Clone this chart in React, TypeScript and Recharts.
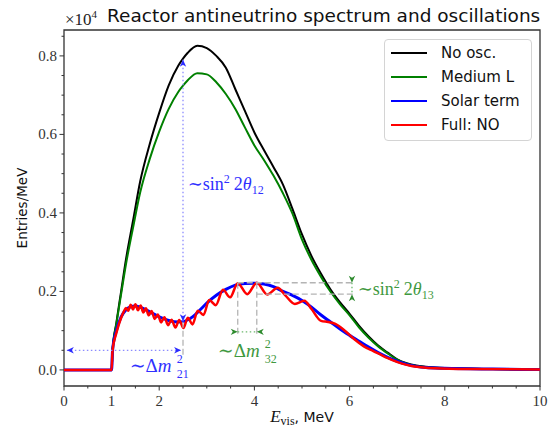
import React from 'react';
import { LineChart, Line, XAxis, YAxis, Legend, ReferenceArea, ReferenceDot } from 'recharts';

const W = 551;
const H = 429;
const Y_MIN = -0.041;
const Y_MAX = 0.866;

const SERIF = '"Liberation Serif", "DejaVu Serif", serif';
const SANS = '"DejaVu Sans", "Liberation Sans", sans-serif';
const AXIS = '#333333';

// x ticks (E_vis, MeV) and y ticks (x10^4 entries/MeV)
const X_TICKS = [0, 0.5, 1, 1.5, 2, 2.5, 3, 3.5, 4, 4.5, 5, 5.5, 6, 6.5, 7, 7.5, 8, 8.5, 9, 9.5, 10];
const X_LABELED = [0, 1, 2, 4, 6, 8, 10];
const Y_TICKS = [0, 0.05, 0.1, 0.15, 0.2, 0.25, 0.3, 0.35, 0.4, 0.45, 0.5, 0.55, 0.6, 0.65, 0.7, 0.75, 0.8, 0.85];
const Y_LABELED = [0, 0.2, 0.4, 0.6, 0.8];

// spectra: [E_vis, entries/MeV in 1e4]
const noOsc: [number, number][] = [
  [0, 0], [1.0, 0], [1.02, 0.05], [1.1, 0.12], [1.2, 0.2], [1.3, 0.28], [1.45, 0.38], [1.6, 0.48],
  [1.8, 0.575], [2.0, 0.655], [2.2, 0.725], [2.4, 0.775], [2.5, 0.793], [2.6, 0.808], [2.8, 0.826],
  [3.0, 0.82], [3.2, 0.8], [3.4, 0.77], [3.6, 0.715], [3.8, 0.66], [4.0, 0.605], [4.2, 0.56],
  [4.4, 0.517], [4.6, 0.472], [4.8, 0.41], [5.0, 0.345], [5.2, 0.29], [5.4, 0.245], [5.6, 0.205],
  [5.8, 0.172], [6.0, 0.143], [6.2, 0.112], [6.4, 0.085], [6.6, 0.062], [6.8, 0.044], [7.0, 0.027],
  [7.2, 0.017], [7.4, 0.011], [7.6, 0.008], [8.0, 0.005], [9.0, 0.002], [10, 0.001],
];

const mediumL: [number, number][] = [
  [0, 0], [1.0, 0], [1.02, 0.05], [1.1, 0.117], [1.2, 0.193], [1.3, 0.268], [1.45, 0.362], [1.6, 0.452],
  [1.8, 0.537], [2.0, 0.607], [2.2, 0.665], [2.4, 0.708], [2.5, 0.724], [2.6, 0.738], [2.8, 0.756],
  [3.0, 0.753], [3.2, 0.733], [3.4, 0.703], [3.6, 0.665], [3.8, 0.618], [4.0, 0.572], [4.2, 0.535],
  [4.4, 0.495], [4.6, 0.45], [4.8, 0.398], [5.0, 0.332], [5.2, 0.28], [5.4, 0.237], [5.6, 0.199],
  [5.8, 0.167], [6.0, 0.139], [6.2, 0.108], [6.4, 0.082], [6.6, 0.06], [6.8, 0.042], [7.0, 0.026],
  [7.2, 0.016], [7.4, 0.01], [7.6, 0.007], [8.0, 0.004], [9.0, 0.002], [10, 0.001],
];

const solarTerm: [number, number][] = [
  [0, 0], [1.0, 0], [1.02, 0.05], [1.1, 0.1], [1.2, 0.135], [1.3, 0.153], [1.4, 0.161], [1.5, 0.163],
  [1.6, 0.16], [1.8, 0.148], [2.0, 0.135], [2.2, 0.126], [2.4, 0.122], [2.5, 0.123], [2.7, 0.135],
  [2.85, 0.152], [3.0, 0.17], [3.2, 0.19], [3.4, 0.205], [3.6, 0.216], [3.8, 0.22], [4.0, 0.221],
  [4.2, 0.219], [4.4, 0.212], [4.6, 0.2], [4.8, 0.19], [5.0, 0.177], [5.2, 0.16], [5.4, 0.14],
  [5.6, 0.122], [5.8, 0.104], [6.0, 0.088], [6.2, 0.073], [6.4, 0.058], [6.6, 0.044], [6.8, 0.032],
  [7.0, 0.022], [7.2, 0.014], [7.4, 0.009], [7.6, 0.006], [8.0, 0.004], [9.0, 0.002], [10, 0.001],
];

const fullNO: [number, number][] = [
  [0, 0], [1.0, 0], [1.02, 0.05], [1.1, 0.094], [1.2, 0.133], [1.25, 0.147],
  [1.3, 0.158], [1.35, 0.151], [1.4, 0.166], [1.45, 0.154], [1.5, 0.167], [1.555, 0.152],
  [1.61, 0.164], [1.665, 0.146], [1.72, 0.157], [1.78, 0.139], [1.84, 0.15], [1.905, 0.13],
  [1.97, 0.141], [2.04, 0.121], [2.11, 0.134], [2.185, 0.114], [2.26, 0.128], [2.34, 0.108],
  [2.42, 0.127], [2.51, 0.107], [2.6, 0.133], [2.7, 0.116], [2.81, 0.151], [2.93, 0.14],
  [3.05, 0.178], [3.19, 0.165], [3.34, 0.204], [3.49, 0.185], [3.65, 0.221], [3.85, 0.193],
  [4.05, 0.222], [4.27, 0.192], [4.49, 0.209], [4.65, 0.19], [4.85, 0.168], [5.05, 0.176],
  [5.2, 0.155], [5.4, 0.125], [5.55, 0.122], [5.7, 0.117], [5.9, 0.1], [6.1, 0.078], [6.3, 0.06],
  [6.5, 0.048], [6.7, 0.036], [6.9, 0.025], [7.1, 0.016], [7.3, 0.01], [7.5, 0.007], [7.8, 0.004],
  [8.5, 0.002], [10, 0.001],
];

// annotation geometry, data units
type Pt = { x: number; y: number; head?: 'up' | 'down' | 'left' | 'right' };
const arrow12: Pt[] = [{ x: 2.5, y: 0.124, head: 'down' }, { x: 2.5, y: 0.79, head: 'up' }];
const arrow21: Pt[] = [{ x: 0.06, y: 0.05, head: 'left' }, { x: 2.46, y: 0.05, head: 'right' }];
const guide21: Pt[] = [{ x: 2.5, y: 0.123 }, { x: 2.5, y: 0.035 }];
const guide32a: Pt[] = [{ x: 3.65, y: 0.222 }, { x: 3.65, y: 0.085 }];
const guide32b: Pt[] = [{ x: 4.05, y: 0.222 }, { x: 4.05, y: 0.085 }];
const arrow32: Pt[] = [{ x: 3.65, y: 0.097, head: 'right' }, { x: 4.05, y: 0.097, head: 'left' }];
const guide13a: Pt[] = [{ x: 3.65, y: 0.222 }, { x: 6.1, y: 0.222 }];
const guide13b: Pt[] = [{ x: 4.05, y: 0.193 }, { x: 6.1, y: 0.193 }];
const arrow13: Pt[] = [{ x: 6.05, y: 0.222, head: 'down' }, { x: 6.05, y: 0.193, head: 'up' }];

const toPts = (arr: [number, number][]) => arr.map(([x, y]) => ({ x, y }));

const series = [
  { name: 'No osc.', data: toPts(noOsc), color: '#000000', width: 2 },
  { name: 'Medium L', data: toPts(mediumL), color: '#008000', width: 2 },
  { name: 'Solar term', data: toPts(solarTerm), color: '#0000ff', width: 3 },
  { name: 'Full: NO', data: toPts(fullNO), color: '#ff0000', width: 2.5 },
];

const BLUE_TXT = '#3030ff';
const GREEN_TXT = '#3f993f';

function ArrowHead(props: any) {
  const { cx, cy, payload, fill, index } = props;
  if (!payload || !payload.head || cx == null) return <g key={`ah-${index}`} />;
  const rot = { right: 0, down: 90, left: 180, up: 270 }[payload.head as string];
  return (
    <path
      key={`ah-${index}`}
      transform={`translate(${cx},${cy}) rotate(${rot})`}
      d="M0,0 L-7,-3.2 L-5,0 L-7,3.2 Z"
      fill={fill}
    />
  );
}

function XTick(props: any) {
  const { x, y, payload } = props;
  const v = payload.value;
  const major = X_LABELED.includes(v);
  return (
    <g>
      <line x1={x} x2={x} y1={y} y2={y + (major ? 4.5 : 2.5)} stroke={AXIS} strokeWidth={1} />
      {major && (
        <text x={x} y={y + 20} textAnchor="middle" fontFamily={SERIF} fontSize={15} fill={AXIS}>
          {v}
        </text>
      )}
    </g>
  );
}

function YTick(props: any) {
  const { x, y, payload } = props;
  const v = payload.value;
  const major = Y_LABELED.includes(v);
  return (
    <g>
      <line x1={x} x2={x - (major ? 4.5 : 2.5)} y1={y} y2={y} stroke={AXIS} strokeWidth={1} />
      {major && (
        <text x={x - 7} y={y + 5} textAnchor="end" fontFamily={SERIF} fontSize={15} fill={AXIS}>
          {v.toFixed(1)}
        </text>
      )}
    </g>
  );
}

function XLabel(props: any) {
  const vb = props.viewBox || { x: 64, y: 386, width: 476 };
  const cx = vb.x + vb.width / 2;
  return (
    <text x={cx} y={vb.y + 36} textAnchor="middle" fill="#111">
      <tspan fontFamily={SERIF} fontStyle="italic" fontSize={17}>E</tspan>
      <tspan fontFamily={SERIF} fontSize={12} dy={3}>vis</tspan>
      <tspan fontFamily={SANS} fontSize={14} dy={-3}>, MeV</tspan>
    </text>
  );
}

function YLabel(props: any) {
  const vb = props.viewBox || { x: 4, y: 30, width: 60, height: 356 };
  const cx = vb.x + 18;
  const cy = vb.y + vb.height / 2;
  return (
    <text
      x={cx}
      y={cy}
      transform={`rotate(-90, ${cx}, ${cy})`}
      textAnchor="middle"
      dominantBaseline="central"
      fontFamily={SANS}
      fontSize={13.5}
      fill="#111"
    >
      Entries/MeV
    </text>
  );
}

function Sin2Label({ cx, cy, sub, color }: { cx: number; cy: number; sub: string; color: string }) {
  return (
    <text x={cx} y={cy + 5} fill={color} fontFamily={SERIF} fontSize={18}>
      <tspan>∼sin</tspan>
      <tspan fontSize={12} dy={-7}>2</tspan>
      <tspan dy={7} dx={4}>2</tspan>
      <tspan fontStyle="italic">θ</tspan>
      <tspan fontSize={12} dy={4}>{sub}</tspan>
    </text>
  );
}

// ~Δm² with stacked super/subscript; the scripts are separate texts so they sit one above the other
function DmLabel({ cx, cy, sub, color }: { cx: number; cy: number; sub: string; color: string }) {
  const sx = cx + 47;
  return (
    <g fill={color} fontFamily={SERIF}>
      <text x={cx} y={cy} fontSize={19}>
        ∼Δ<tspan fontStyle="italic">m</tspan>
      </text>
      <text x={sx} y={cy - 9} fontSize={12}>2</text>
      <text x={sx} y={cy + 6} fontSize={12}>{sub}</text>
    </g>
  );
}

function LegendBox(props: any) {
  const items = (props.payload || [])
    .filter((p: any) => p.type !== 'none' && series.some((s) => s.name === p.value))
    .sort(
      (a: any, b: any) =>
        series.findIndex((s) => s.name === a.value) - series.findIndex((s) => s.name === b.value),
    );
  return (
    <div
      style={{
        width: 148,
        height: 102,
        boxSizing: 'border-box',
        border: '1px solid #d4d4d4',
        borderRadius: 4,
        background: 'rgba(255,255,255,0.85)',
        paddingTop: 1,
      }}
    >
      {items.map((it: any) => (
        <div key={it.value} style={{ display: 'flex', alignItems: 'center', height: 24 }}>
          <div style={{ width: 36, height: 0, borderTop: `2px solid ${it.color}`, marginLeft: 6, marginRight: 14 }} />
          <span style={{ fontFamily: SANS, fontSize: 15, color: '#111', lineHeight: '24px' }}>{it.value}</span>
        </div>
      ))}
    </div>
  );
}

const guideProps = {
  type: 'linear' as const,
  dataKey: 'y',
  stroke: '#b4b4b4',
  strokeWidth: 1.3,
  strokeDasharray: '6 3',
  dot: false,
  legendType: 'none' as const,
  isAnimationActive: false,
};

export default function App() {
  return (
    <div style={{ position: 'relative', width: W, height: H, background: '#fff' }}>
      <style>{'body{margin:0}'}</style>
      <LineChart width={W} height={H} margin={{ top: 30, right: 11, bottom: 13, left: 4 }}>
        <XAxis
          type="number"
          dataKey="x"
          domain={[0, 10]}
          ticks={X_TICKS}
          interval={0}
          tick={(p: any) => <XTick {...p} />}
          tickLine={false}
          axisLine={false}
          tickSize={0}
          tickMargin={0}
          height={30}
          allowDataOverflow
          label={<XLabel />}
        />
        <YAxis
          type="number"
          domain={[Y_MIN, Y_MAX]}
          ticks={Y_TICKS}
          interval={0}
          tick={(p: any) => <YTick {...p} />}
          tickLine={false}
          axisLine={false}
          tickSize={0}
          tickMargin={0}
          width={60}
          allowDataOverflow
          label={<YLabel />}
        />
        <ReferenceArea x1={0} x2={10} y1={Y_MIN} y2={Y_MAX} fill="none" stroke={AXIS} strokeWidth={1.3} />

        {series.map((s) => (
          <Line
            key={s.name}
            name={s.name}
            data={s.data}
            dataKey="y"
            type="monotone"
            stroke={s.color}
            strokeWidth={s.width}
            dot={false}
            activeDot={false}
            isAnimationActive={false}
          />
        ))}

        {/* guide lines */}
        <Line {...guideProps} name="g21" data={guide21} />
        <Line {...guideProps} name="g32a" data={guide32a} />
        <Line {...guideProps} name="g32b" data={guide32b} />
        <Line {...guideProps} name="g13a" data={guide13a} />
        <Line {...guideProps} name="g13b" data={guide13b} />

        {/* arrows */}
        <Line
          name="a12"
          data={arrow12}
          dataKey="y"
          type="linear"
          stroke="#8c8cff"
          strokeWidth={1.3}
          strokeDasharray="1.5 2.5"
          legendType="none"
          isAnimationActive={false}
          dot={(p: any) => <ArrowHead {...p} fill="#2a2aff" />}
        />
        <Line
          name="a21"
          data={arrow21}
          dataKey="y"
          type="linear"
          stroke="#8c8cff"
          strokeWidth={1.3}
          strokeDasharray="1.5 2.5"
          legendType="none"
          isAnimationActive={false}
          dot={(p: any) => <ArrowHead {...p} fill="#2a2aff" />}
        />
        <Line
          name="a32"
          data={arrow32}
          dataKey="y"
          type="linear"
          stroke="#6cb86c"
          strokeWidth={1.3}
          strokeDasharray="1.5 2.5"
          legendType="none"
          isAnimationActive={false}
          dot={(p: any) => <ArrowHead {...p} fill="#2e8b2e" />}
        />
        <Line
          name="a13"
          data={arrow13}
          dataKey="y"
          type="linear"
          stroke="#6cb86c"
          strokeWidth={1.3}
          strokeDasharray="1.5 2.5"
          legendType="none"
          isAnimationActive={false}
          dot={(p: any) => <ArrowHead {...p} fill="#2e8b2e" />}
        />

        <ReferenceDot x={2.6} y={0.471} r={0} shape={(p: any) => <Sin2Label cx={p.cx} cy={p.cy} sub="12" color={BLUE_TXT} />} />
        <ReferenceDot x={6.17} y={0.204} r={0} shape={(p: any) => <Sin2Label cx={p.cx} cy={p.cy} sub="13" color={GREEN_TXT} />} />
        <ReferenceDot x={1.38} y={-0.005} r={0} shape={(p: any) => <DmLabel cx={p.cx} cy={p.cy} sub="21" color={BLUE_TXT} />} />
        <ReferenceDot x={3.23} y={0.033} r={0} shape={(p: any) => <DmLabel cx={p.cx} cy={p.cy} sub="32" color={GREEN_TXT} />} />

        <Legend
          layout="vertical"
          align="center"
          verticalAlign="middle"
          content={(p: any) => <LegendBox {...p} />}
          wrapperStyle={{ left: 384, top: 39, width: 148, height: 102 }}
        />
      </LineChart>
      <svg width={W} height={28} style={{ position: 'absolute', left: 0, top: 0 }}>
        <text x={65} y={25} fontFamily={SERIF} fontSize={17} fill="#222">
          ×10<tspan fontSize={11} dy={-7}>4</tspan>
        </text>
        <text x={107} y={22} fontFamily={SANS} fontSize={18.5} fill="#111">
          Reactor antineutrino spectrum and oscillations
        </text>
      </svg>
    </div>
  );
}
